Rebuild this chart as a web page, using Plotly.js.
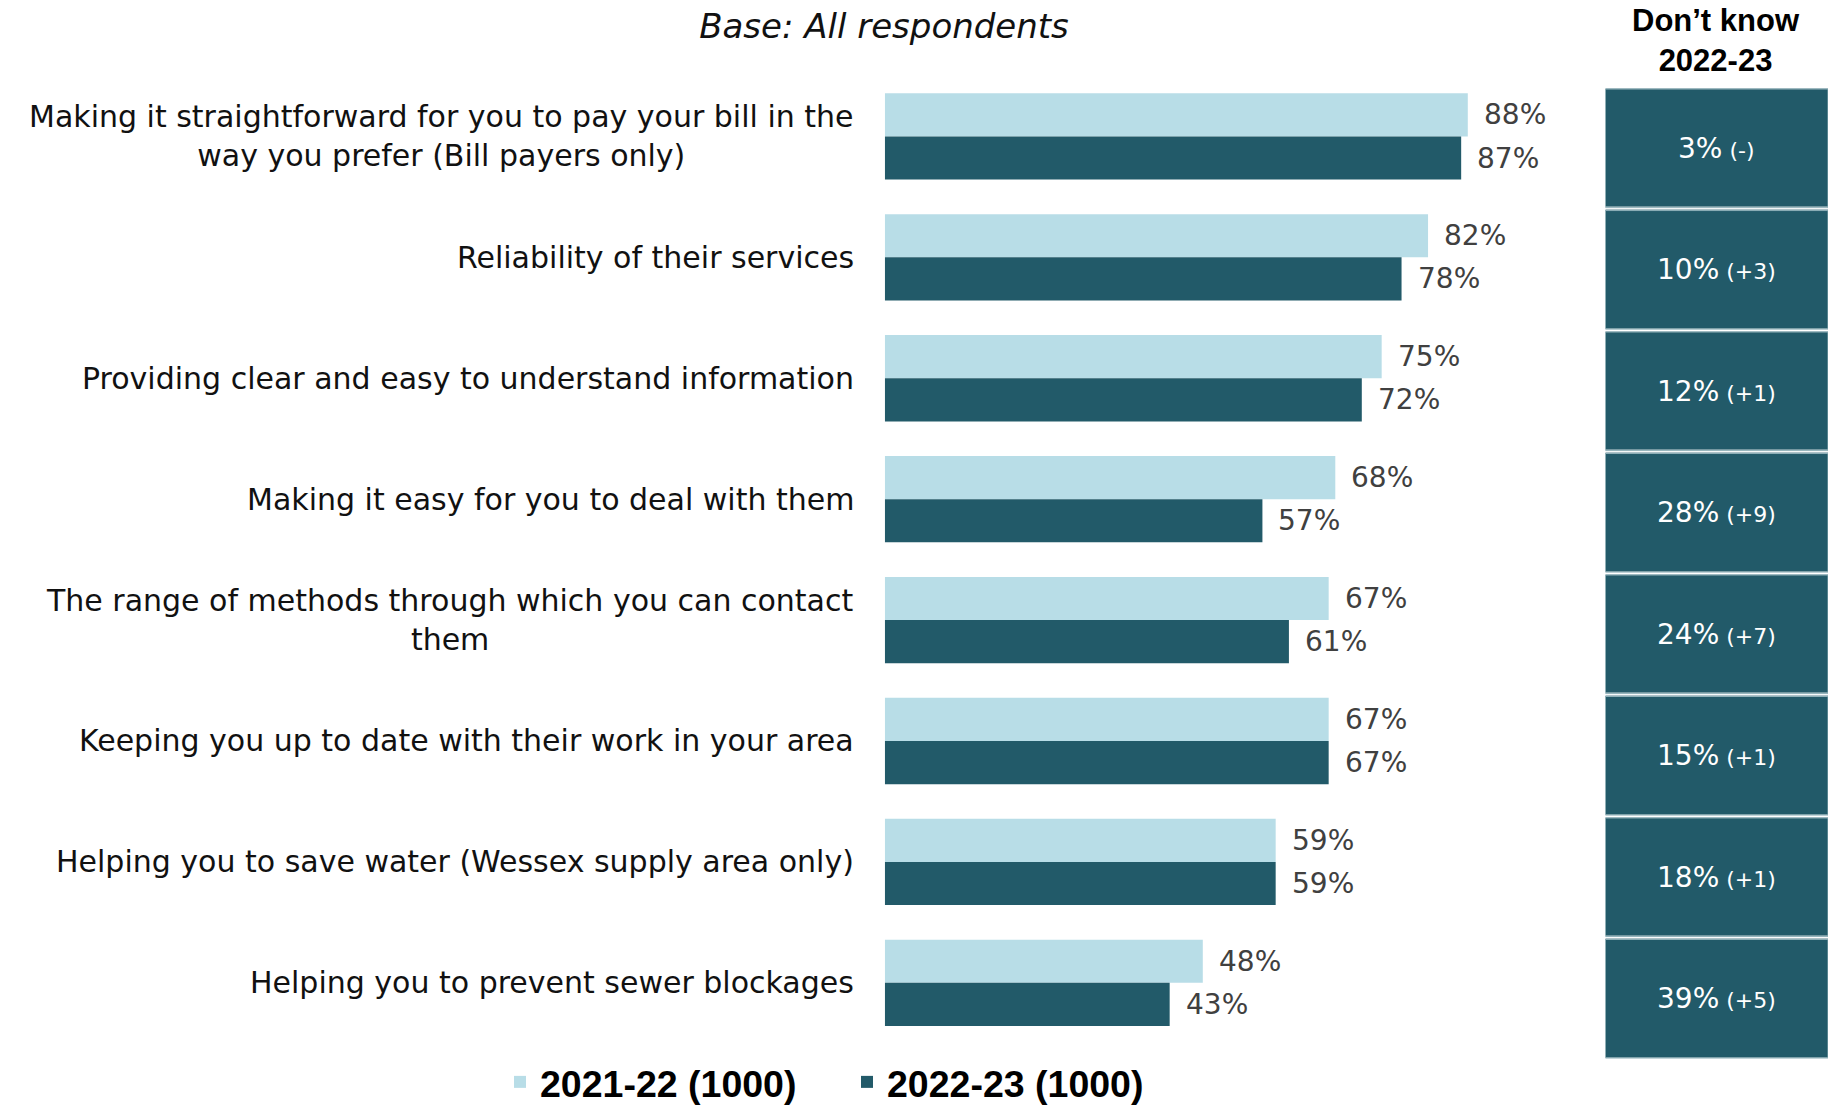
<!DOCTYPE html>
<html>
<head>
<meta charset="utf-8">
<script src="https://cdn.plot.ly/plotly-3.0.1.min.js"></script>
<style>
  html, body { margin: 0; padding: 0; background: #ffffff; }
  #chart { width: 1828px; height: 1107px; }
</style>
</head>
<body>
<div id="chart"></div>
<script>
// ---- Data ----
const categories = [
  'Making it straightforward for you to pay your bill in the<br>way you prefer (Bill payers only)',
  'Reliability of their services',
  'Providing clear and easy to understand information',
  'Making it easy for you to deal with them',
  'The range of methods through which you can contact<br>them',
  'Keeping you up to date with their work in your area',
  'Helping you to save water (Wessex supply area only)',
  'Helping you to prevent sewer blockages'
];
const series2122Name = '2021-22 (1000)';
const series2223Name = '2022-23 (1000)';
const values2122 = [88, 82, 75, 68, 67, 67, 59, 48];
const values2223 = [87, 78, 72, 57, 61, 67, 59, 43];
const dontKnowLabel = 'Don\u2019t know<br>2022-23';
const dontKnow2223 = [3, 10, 12, 28, 24, 15, 18, 39];
const dontKnowChange = ['-', '+3', '+1', '+9', '+7', '+1', '+1', '+5'];
const baseText = 'Base: All respondents';

// ---- Styles ----
const LIGHT = '#b8dde7';
const DARK = '#225a69';
const LABEL_FONT = 'DejaVu Sans, Arial, sans-serif';
const BOLD_FONT = 'Liberation Sans, Arial, sans-serif';

const traces = [
  {
    type: 'bar', orientation: 'h', name: series2122Name,
    y: categories, x: values2122,
    marker: { color: LIGHT },
    xaxis: 'x', yaxis: 'y', hoverinfo: 'skip'
  },
  {
    type: 'bar', orientation: 'h', name: series2223Name,
    y: categories, x: values2223,
    marker: { color: DARK },
    xaxis: 'x', yaxis: 'y', hoverinfo: 'skip'
  },
  {
    type: 'heatmap', x: ['dk'], y: categories,
    z: dontKnow2223.map(v => [v]),
    colorscale: [[0, DARK], [1, DARK]],
    showscale: false, ygap: 3, xgap: 0,
    xaxis: 'x2', yaxis: 'y2', hoverinfo: 'skip', showlegend: false
  }
];

const annotations = [];
// category labels
categories.forEach((c) => {
  annotations.push({
    xref: 'paper', yref: 'y', x: 856 / 1828, y: c,
    xanchor: 'right', yanchor: 'middle', align: 'center',
    text: c, showarrow: false,
    font: { family: LABEL_FONT, size: 30, color: '#111111' }
  });
});
// value labels
const BAR_SHIFT = 21.6;
categories.forEach((c, i) => {
  annotations.push({
    xref: 'x', yref: 'y', x: values2122[i], y: c,
    xanchor: 'left', yanchor: 'middle', xshift: 14, yshift: BAR_SHIFT,
    text: values2122[i] + '%', showarrow: false,
    font: { family: LABEL_FONT, size: 28, color: '#404040' }
  });
  annotations.push({
    xref: 'x', yref: 'y', x: values2223[i], y: c,
    xanchor: 'left', yanchor: 'middle', xshift: 14, yshift: -BAR_SHIFT,
    text: values2223[i] + '%', showarrow: false,
    font: { family: LABEL_FONT, size: 28, color: '#404040' }
  });
});
// don't know cells
categories.forEach((c, i) => {
  annotations.push({
    xref: 'x2', yref: 'y2', x: 'dk', y: c,
    xanchor: 'center', yanchor: 'middle',
    text: dontKnow2223[i] + '%<span style="font-size:22px"> (' + dontKnowChange[i] + ')</span>',
    showarrow: false,
    font: { family: LABEL_FONT, size: 28, color: '#ffffff' }
  });
});
// don't know header
annotations.push({
  xref: 'paper', yref: 'paper', x: 1716 / 1828, y: 1 - 40 / 1107,
  xanchor: 'center', yanchor: 'middle', align: 'center',
  text: '<b>' + dontKnowLabel + '</b>', showarrow: false,
  font: { family: BOLD_FONT, size: 31, color: '#000000' }
});

// light outlines around the "Don't know" cells
const shapes = categories.map((c, i) => ({
  type: 'rect', xref: 'x2', yref: 'y2',
  x0: -0.5, x1: 0.5, y0: i - 0.488, y1: i + 0.488,
  line: { color: '#8fb0b8', width: 1 }, fillcolor: 'rgba(0,0,0,0)'
}));

const layout = {
  width: 1828, height: 1107,
  margin: { l: 0, r: 0, t: 0, b: 0, pad: 0, autoexpand: false },
  paper_bgcolor: '#ffffff', plot_bgcolor: 'rgba(0,0,0,0)',
  title: {
    text: baseText,
    x: 884 / 1828, xref: 'paper', xanchor: 'center',
    y: 1 - 26 / 1107, yref: 'paper', yanchor: 'middle',
    font: { family: LABEL_FONT, size: 34, style: 'italic', color: '#111111' },
    automargin: false
  },
  barmode: 'group', bargap: 0.286, bargroupgap: 0,
  xaxis: {
    domain: [884.8 / 1828, 1547.3 / 1828], range: [0, 100],
    visible: false, fixedrange: true
  },
  yaxis: {
    domain: [1 - 1043.25 / 1107, 1 - 75.95 / 1107],
    type: 'category', categoryorder: 'array', categoryarray: categories,
    range: [7.5, -0.5], showticklabels: false, showgrid: false,
    zeroline: false, showline: false, ticks: '', fixedrange: true
  },
  xaxis2: {
    domain: [1605.3 / 1828, 1], type: 'category', range: [-0.5, 0.5],
    visible: false, anchor: 'y2', fixedrange: true
  },
  yaxis2: {
    domain: [1 - 1059.5 / 1107, 1 - 87.6 / 1107],
    type: 'category', categoryorder: 'array', categoryarray: categories,
    range: [7.5, -0.5], visible: false, anchor: 'x2', fixedrange: true
  },
  showlegend: true,
  legend: {
    orientation: 'h', traceorder: 'normal',
    x: 500 / 1828, xanchor: 'left', xref: 'paper',
    y: 1 - 1082 / 1107, yanchor: 'middle', yref: 'paper',
    entrywidth: 302,
    font: { family: BOLD_FONT, size: 37.5, color: '#000000', weight: 'bold' },
    bgcolor: 'rgba(0,0,0,0)'
  },
  shapes: shapes,
  annotations: annotations
};

Plotly.newPlot('chart', traces, layout, { staticPlot: true, displayModeBar: false });
</script>
</body>
</html>
